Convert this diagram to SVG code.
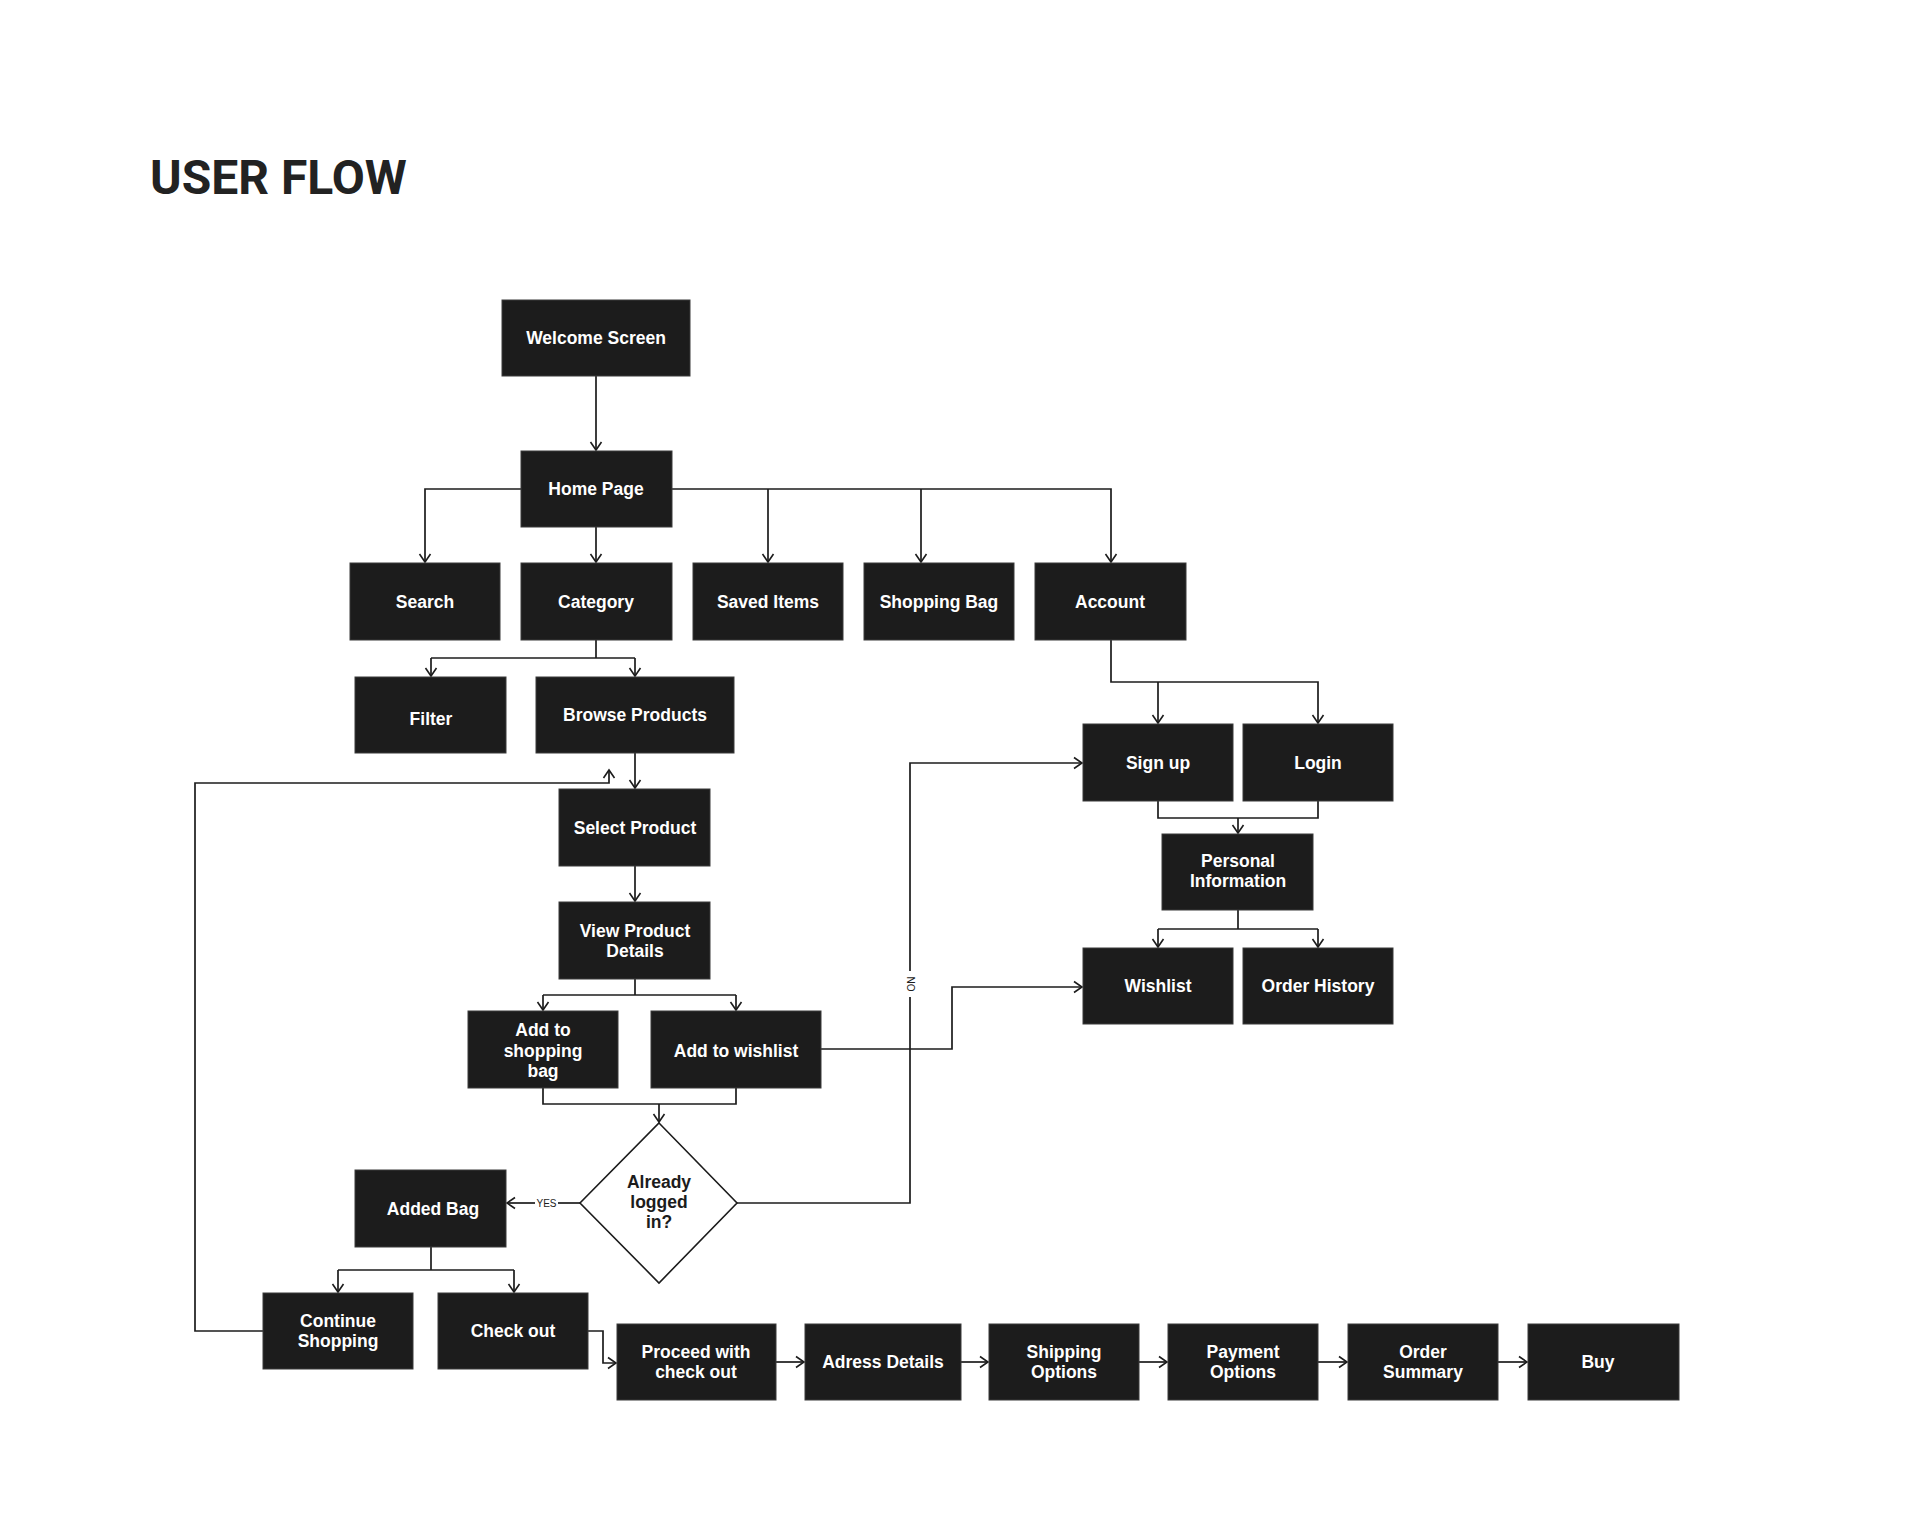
<svg xmlns="http://www.w3.org/2000/svg" width="1920" height="1529" viewBox="0 0 1920 1529">
<style>
.box{fill:#1c1c1c;stroke:#3a3a3a;stroke-width:1}
.lbl{font-family:"Liberation Sans",Arial,sans-serif;font-weight:bold;font-size:17.5px;fill:#ffffff;text-anchor:middle}
.dlbl{font-family:"Liberation Sans",Arial,sans-serif;font-weight:bold;font-size:17.5px;fill:#1c1c1c;text-anchor:middle}
.small{font-family:"Liberation Sans",Arial,sans-serif;font-size:10px;fill:#1c1c1c;text-anchor:middle}
.c{fill:none;stroke:#1c1c1c;stroke-width:1.7}
.title{font-family:Roboto,"Liberation Sans",sans-serif;font-weight:bold;font-size:48px;fill:#222222}
</style>
<defs>
<marker id="arr" viewBox="-10 -7 12 14" refX="0" refY="0" markerWidth="12" markerHeight="14" markerUnits="userSpaceOnUse" orient="auto">
<path d="M-8,-5.5 L0,0 L-8,5.5" fill="none" stroke="#1c1c1c" stroke-width="1.6"/>
</marker>
</defs>
<rect width="1920" height="1529" fill="#ffffff"/>
<text class="title" x="150" y="194">USER FLOW</text>

<g id="connectors">
<path class="c" d="M596,376 V450" marker-end="url(#arr)"/>
<path class="c" d="M521,489 H425 V562" marker-end="url(#arr)"/>
<path class="c" d="M596,527 V562" marker-end="url(#arr)"/>
<path class="c" d="M672,489 H1111 V562" marker-end="url(#arr)"/>
<path class="c" d="M768,489 V562" marker-end="url(#arr)"/>
<path class="c" d="M921,489 V562" marker-end="url(#arr)"/>
<path class="c" d="M596,640 V658"/>
<path class="c" d="M431,658 H635"/>
<path class="c" d="M431,658 V676" marker-end="url(#arr)"/>
<path class="c" d="M635,658 V676" marker-end="url(#arr)"/>
<path class="c" d="M635,753 V788" marker-end="url(#arr)"/>
<path class="c" d="M635,866 V901" marker-end="url(#arr)"/>
<path class="c" d="M635,979 V995"/>
<path class="c" d="M543,995 H736"/>
<path class="c" d="M543,995 V1010" marker-end="url(#arr)"/>
<path class="c" d="M736,995 V1010" marker-end="url(#arr)"/>
<path class="c" d="M543,1088 V1104 H736 V1088"/>
<path class="c" d="M659,1104 V1122" marker-end="url(#arr)"/>
<path class="c" d="M580,1203 H558"/>
<path class="c" d="M535,1203 H507" marker-end="url(#arr)"/>
<text class="small" x="546.5" y="1206.5">YES</text>
<path class="c" d="M737,1203 H910 V997"/>
<path class="c" d="M910,971 V763 H1082" marker-end="url(#arr)"/>
<text class="small" x="0" y="0" transform="translate(906.5,984) rotate(90)">NO</text>
<path class="c" d="M821,1049 H952 V987 H1082" marker-end="url(#arr)"/>
<path class="c" d="M1111,640 V682 H1318 V723" marker-end="url(#arr)"/>
<path class="c" d="M1158,682 V723" marker-end="url(#arr)"/>
<path class="c" d="M1158,801 V818 H1318 V801"/>
<path class="c" d="M1238,818 V833" marker-end="url(#arr)"/>
<path class="c" d="M1238,910 V929"/>
<path class="c" d="M1158,929 H1318"/>
<path class="c" d="M1158,929 V947" marker-end="url(#arr)"/>
<path class="c" d="M1318,929 V947" marker-end="url(#arr)"/>
<path class="c" d="M431,1247 V1270"/>
<path class="c" d="M338,1270 H514"/>
<path class="c" d="M338,1270 V1292" marker-end="url(#arr)"/>
<path class="c" d="M514,1270 V1292" marker-end="url(#arr)"/>
<path class="c" d="M263,1331 H195 V783 H609 V770" marker-end="url(#arr)"/>
<path class="c" d="M588,1331 H603 V1363 H616" marker-end="url(#arr)"/>
<path class="c" d="M776,1362 H804" marker-end="url(#arr)"/>
<path class="c" d="M961,1362 H988" marker-end="url(#arr)"/>
<path class="c" d="M1139,1362 H1167" marker-end="url(#arr)"/>
<path class="c" d="M1318,1362 H1347" marker-end="url(#arr)"/>
<path class="c" d="M1498,1362 H1527" marker-end="url(#arr)"/>
</g>

<g id="welcome"><rect class="box" x="502" y="300" width="188" height="76"/><text class="lbl" x="596" y="344">Welcome Screen</text></g>
<g id="home"><rect class="box" x="521" y="451" width="151" height="76"/><text class="lbl" x="596" y="495">Home Page</text></g>
<g id="search"><rect class="box" x="350" y="563" width="150" height="77"/><text class="lbl" x="425" y="608">Search</text></g>
<g id="category"><rect class="box" x="521" y="563" width="151" height="77"/><text class="lbl" x="596" y="608">Category</text></g>
<g id="saved"><rect class="box" x="693" y="563" width="150" height="77"/><text class="lbl" x="768" y="608">Saved Items</text></g>
<g id="bag"><rect class="box" x="864" y="563" width="150" height="77"/><text class="lbl" x="939" y="608">Shopping Bag</text></g>
<g id="account"><rect class="box" x="1035" y="563" width="151" height="77"/><text class="lbl" x="1110" y="608">Account</text></g>
<g id="filter"><rect class="box" x="355" y="677" width="151" height="76"/><text class="lbl" x="431" y="725">Filter</text></g>
<g id="browse"><rect class="box" x="536" y="677" width="198" height="76"/><text class="lbl" x="635" y="721">Browse Products</text></g>
<g id="select"><rect class="box" x="559" y="789" width="151" height="77"/><text class="lbl" x="635" y="834">Select Product</text></g>
<g id="view"><rect class="box" x="559" y="902" width="151" height="77"/><text class="lbl" x="635" y="937">View Product</text><text class="lbl" x="635" y="957">Details</text></g>
<g id="addbag"><rect class="box" x="468" y="1011" width="150" height="77"/><text class="lbl" x="543" y="1036">Add to</text><text class="lbl" x="543" y="1057">shopping</text><text class="lbl" x="543" y="1077">bag</text></g>
<g id="addwish"><rect class="box" x="651" y="1011" width="170" height="77"/><text class="lbl" x="736" y="1057">Add to wishlist</text></g>
<g id="signup"><rect class="box" x="1083" y="724" width="150" height="77"/><text class="lbl" x="1158" y="769">Sign up</text></g>
<g id="login"><rect class="box" x="1243" y="724" width="150" height="77"/><text class="lbl" x="1318" y="769">Login</text></g>
<g id="personal"><rect class="box" x="1162" y="834" width="151" height="76"/><text class="lbl" x="1238" y="867">Personal</text><text class="lbl" x="1238" y="887">Information</text></g>
<g id="wishlist"><rect class="box" x="1083" y="948" width="150" height="76"/><text class="lbl" x="1158" y="992">Wishlist</text></g>
<g id="orderhistory"><rect class="box" x="1243" y="948" width="150" height="76"/><text class="lbl" x="1318" y="992">Order History</text></g>
<g id="decision"><polygon points="659,1123 737,1203 659,1283 580,1203" fill="#ffffff" stroke="#1c1c1c" stroke-width="1.6"/><text class="dlbl" x="659" y="1188">Already</text><text class="dlbl" x="659" y="1208">logged</text><text class="dlbl" x="659" y="1228">in?</text></g>
<g id="addedbag"><rect class="box" x="355" y="1170" width="151" height="77"/><text class="lbl" x="433" y="1215">Added Bag</text></g>
<g id="continue"><rect class="box" x="263" y="1293" width="150" height="76"/><text class="lbl" x="338" y="1327">Continue</text><text class="lbl" x="338" y="1347">Shopping</text></g>
<g id="checkout"><rect class="box" x="438" y="1293" width="150" height="76"/><text class="lbl" x="513" y="1337">Check out</text></g>
<g id="proceed"><rect class="box" x="617" y="1324" width="159" height="76"/><text class="lbl" x="696" y="1358">Proceed with</text><text class="lbl" x="696" y="1378">check out</text></g>
<g id="address"><rect class="box" x="805" y="1324" width="156" height="76"/><text class="lbl" x="883" y="1368">Adress Details</text></g>
<g id="shipping"><rect class="box" x="989" y="1324" width="150" height="76"/><text class="lbl" x="1064" y="1358">Shipping</text><text class="lbl" x="1064" y="1378">Options</text></g>
<g id="payment"><rect class="box" x="1168" y="1324" width="150" height="76"/><text class="lbl" x="1243" y="1358">Payment</text><text class="lbl" x="1243" y="1378">Options</text></g>
<g id="summary"><rect class="box" x="1348" y="1324" width="150" height="76"/><text class="lbl" x="1423" y="1358">Order</text><text class="lbl" x="1423" y="1378">Summary</text></g>
<g id="buy"><rect class="box" x="1528" y="1324" width="151" height="76"/><text class="lbl" x="1598" y="1368">Buy</text></g>
</svg>
